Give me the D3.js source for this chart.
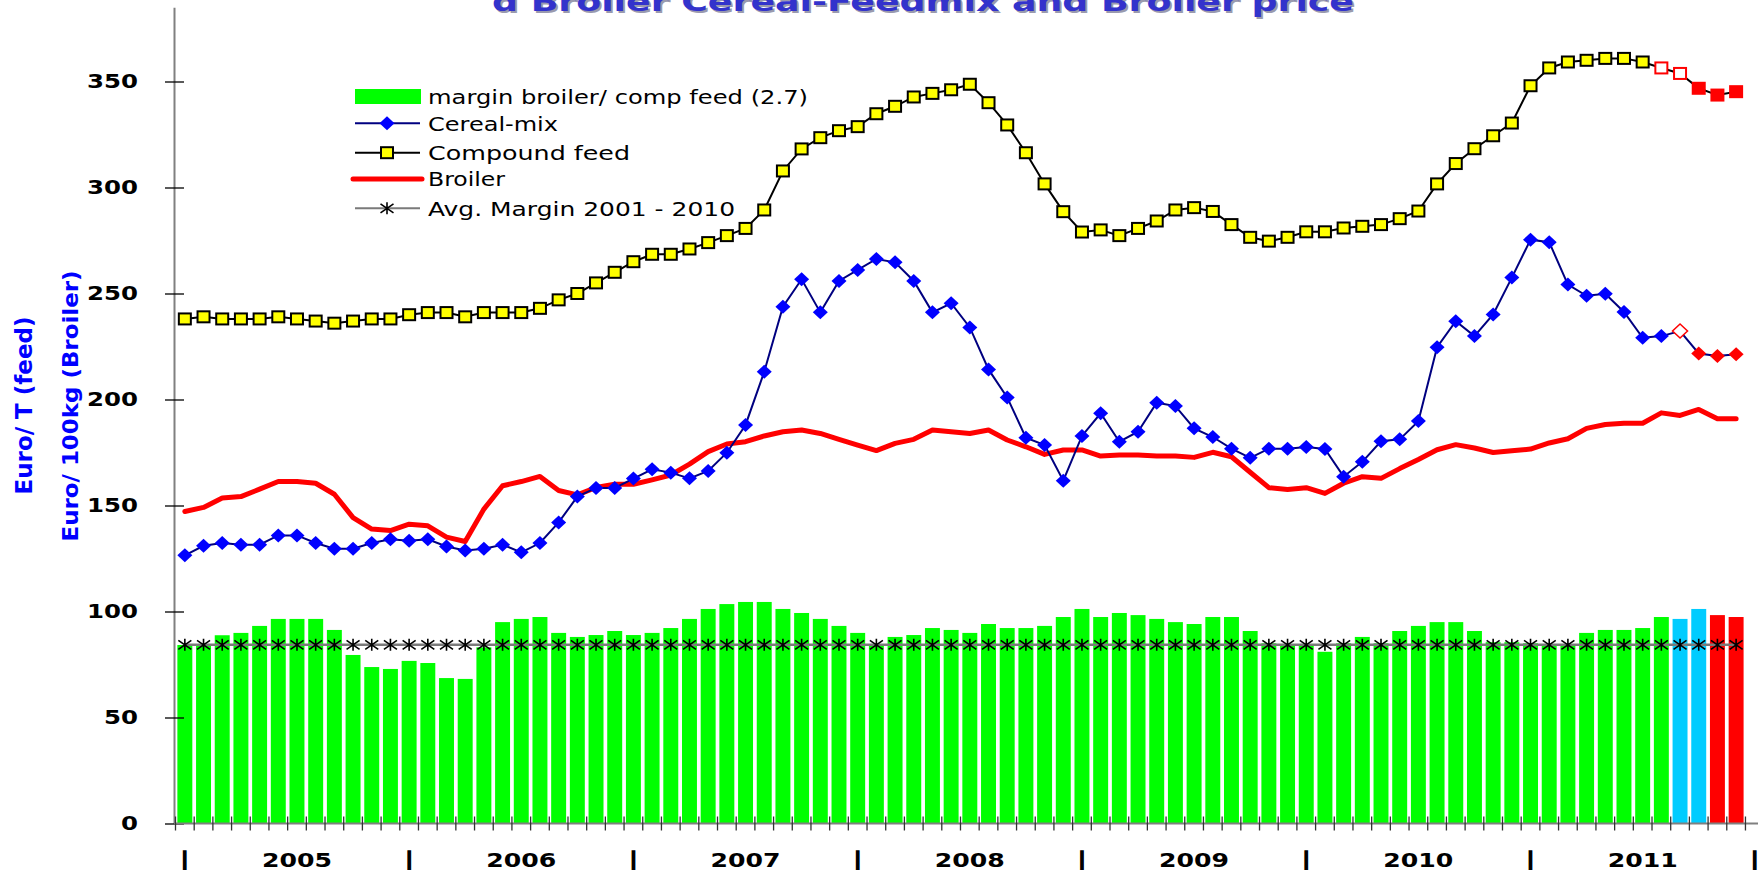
<!DOCTYPE html>
<html>
<head>
<meta charset="utf-8">
<script src="https://cdn.jsdelivr.net/npm/d3@7"></script>
<style>
  body { margin: 0; background: #fff; overflow: hidden; }
  svg { display: block; font-family: "DejaVu Sans", Verdana, sans-serif; }
</style>
</head>
<body>
<svg id="chart"></svg>
<script>
// Data, one value per month (Jan 2005 - Dec 2011)
var years = ["2005", "2006", "2007", "2008", "2009", "2010", "2011"];

var marginBars = [84.2, 84.2, 88.8, 89.9, 93.2, 96.5, 96.5, 96.5, 91.3, 79.5, 73.8, 72.9, 76.7, 75.7, 68.6, 68.2, 83.1, 95.0, 96.5, 97.4, 89.9, 88.0, 88.9,
  90.8, 88.9, 89.9, 92.2, 96.5, 101.2, 103.5, 104.5, 104.5, 101.2, 99.3, 96.5, 93.2, 89.9, 84.5, 88.0, 88.9, 92.2, 91.3, 89.9, 94.1, 92.2, 92.2, 93.2, 97.4, 101.2, 97.4, 99.3, 98.3, 96.5, 95.0,
  94.1, 97.4, 97.4, 90.8, 85.0, 84.0, 84.0, 81.0, 85.0, 88.0, 85.0, 90.8, 93.2, 95.0, 95.0, 90.8, 85.5, 85.5, 85.0, 84.5, 84.5, 89.9, 91.3, 91.3, 92.2, 97.4, 96.5, 101.2, 98.3, 97.4];

var cerealMix = [126.5, 131, 132.3, 131.5, 131.5, 135.9, 135.9, 132.3, 129.6, 129.6, 132.3, 134.1, 133.4, 134.1, 130.7, 128.8, 129.6, 131.5, 127.9, 132.3, 142, 154.2, 158.3, 158.3, 162.7, 167.1, 165.5,
  162.8, 166.3, 174.9, 188, 213.1, 243.8, 256.7, 241.1, 255.9, 261.1, 266.3, 264.7, 255.9, 241.1, 245.4, 234, 214.2, 201, 182, 178.5, 161.7, 182.8, 193.5, 180.1, 184.8, 198.5, 196.9, 186.4,
  182.3, 176.8, 172.5, 176.8, 176.8, 177.6, 176.7, 163.6, 170.6, 180.3, 181.2, 189.8, 224.7, 236.9, 229.9, 240.1, 257.5, 275.4, 274.2, 254.2, 248.9, 249.9, 241.3, 229.1, 229.9, 232.3, 221.7, 220.5, 221.3];

var compoundFeed = [238, 239, 238, 238, 238, 239, 238, 237, 236, 237, 238, 238, 240, 241, 241, 239, 241, 241, 241, 243, 247, 250, 255, 260, 265, 268.5, 268.5,
  271, 274, 277.3, 280.7, 289.4, 307.8, 318.2, 323.5, 326.8, 328.7, 334.8, 338.3, 342.7, 344.4, 346.1, 348.7, 340, 329.5, 316.4, 301.7, 288.6, 279, 280, 277.3, 280.7, 284.2, 289.4, 290.5,
  288.7, 282.5, 276.5, 274.7, 276.5, 279.1, 279.1, 280.9, 281.7, 282.5, 285.3, 288.9, 301.7, 311.3, 318.3, 324.4, 330.4, 348.0, 356.4, 359.2, 360.0, 360.9, 360.9, 359.2, 356.4, 353.8, 346.8, 343.6, 345.2];

var broiler = [147.2, 149.1, 153.5, 154.2, 157.7, 161.3, 161.3, 160.5, 155.3, 144.3, 138.9, 138.2, 141.2, 140.4, 135.1, 133, 148.3, 159.3, 161.3, 163.7, 157.1, 155, 158.5, 160, 160, 162.1, 164.4, 169.5,
  175.4, 179, 180.1, 182.8, 184.8, 185.6, 184, 181.2, 178.5, 175.9, 179.3, 181.2, 185.6, 184.8, 184, 185.6, 180.9, 177.7, 174.1, 176.2, 176.2, 173.3, 173.8, 173.8, 173.3, 173.3, 172.7,
  175.1, 173, 165.7, 158.4, 157.6, 158.4, 155.7, 160.5, 163.6, 162.8, 167.4, 171.7, 176.3, 178.7, 177.1, 175, 175.8, 176.6, 179.5, 181.5, 186.4, 188.2, 188.8, 188.8, 193.7, 192.5, 195.3, 190.9, 190.9];

var avgMargin = 84.3;   // Avg. Margin 2001 - 2010, flat line
var yTicks = [0, 50, 100, 150, 200, 250, 300, 350];

// months which are drawn in the estimate / forecast colours
var barCyan = [80, 81], barRed = [82, 83];
var compoundOpen = [79, 80], compoundFilled = [81, 82, 83];
var cerealOpen = [80], cerealFilled = [81, 82, 83];

// category list: every month plus one empty slot on the right
var months = [];
years.forEach(function(y) {
  for (var m = 1; m <= 12; m++) months.push(y + "-" + (m < 10 ? "0" : "") + m);
});
months.push("2012-01");

var width = 1758, height = 870;
var svg = d3.select("#chart").attr("width", width).attr("height", height);

var step = 18.69, left = 175.5;
var x = d3.scaleBand()
  .domain(months)
  .range([left, left + step * months.length])
  .paddingInner(0.2)
  .paddingOuter(0.1);
var y = d3.scaleLinear().domain([0, 385]).range([823.5, 7.3]);

function cx(i) { return x(months[i]) + x.bandwidth() / 2; }

//Title, the top of it is cut off in the original
var titleText = "d Broiler Cereal-Feedmix and Broiler price";
svg.append("text").attr("x", 494).attr("y", 12.5).text(titleText)
  .attr("font-size", 27).attr("font-weight", "bold").attr("fill", "#9a9aae")
  .attr("textLength", 862).attr("lengthAdjust", "spacingAndGlyphs");
svg.append("text").attr("x", 492).attr("y", 10.5).text(titleText)
  .attr("font-size", 27).attr("font-weight", "bold").attr("fill", "#3333cc")
  .attr("textLength", 862).attr("lengthAdjust", "spacingAndGlyphs");

// Bars
svg.append("g").selectAll("rect")
  .data(marginBars)
  .enter().append("rect")
  .attr("x", function(d, i) { return x(months[i]); })
  .attr("width", x.bandwidth())
  .attr("y", function(d) { return y(d); })
  .attr("height", function(d) { return y(0) - y(d); })
  .attr("fill", function(d, i) {
    if (barCyan.indexOf(i) >= 0) return "#00ccff";
    if (barRed.indexOf(i) >= 0) return "#ff0000";
    return "#00ff00";
  });

// Axes
var yAxis = svg.append("g")
  .attr("transform", "translate(174,0)")
  .call(d3.axisLeft(y).tickValues(yTicks).tickSizeInner(9).tickSizeOuter(0).tickPadding(27));
yAxis.select(".domain").attr("stroke", "#808080").attr("stroke-width", 2);
yAxis.selectAll(".tick line").attr("x1", 10).attr("x2", -9).attr("stroke", "#000").attr("stroke-width", 1.3);
yAxis.selectAll(".tick text")
  .attr("font-family", "DejaVu Sans").attr("font-weight", "bold").attr("font-size", 19).attr("fill", "#000")
  .attr("textLength", function(d) { return String(d).length * 17; })
  .attr("lengthAdjust", "spacingAndGlyphs");

svg.append("line").attr("x1", 174).attr("x2", width).attr("y1", y(0)).attr("y2", y(0))
  .attr("stroke", "#808080").attr("stroke-width", 2);
svg.append("g").selectAll("line")
  .data(d3.range(months.length + 1))
  .enter().append("line")
  .attr("x1", function(k) { return left + k * x.step(); })
  .attr("x2", function(k) { return left + k * x.step(); })
  .attr("y1", y(0) - 7).attr("y2", y(0) + 7)
  .attr("stroke", "#333").attr("stroke-width", 1.3);

// year labels and separators
var xLabels = svg.append("g").attr("font-weight", "bold").attr("font-size", 19).attr("fill", "#000");
xLabels.selectAll(".sep")
  .data(d3.range(years.length + 1))
  .enter().append("text").attr("class", "sep")
  .attr("x", function(k) { return cx(k * 12); })
  .attr("y", 866).attr("text-anchor", "middle")
  .attr("stroke", "#000").attr("stroke-width", 1.6)
  .text("|");
xLabels.selectAll(".yr")
  .data(years)
  .enter().append("text").attr("class", "yr")
  .attr("x", function(d, k) { return cx(k * 12 + 6); })
  .attr("y", 867).attr("text-anchor", "middle")
  .attr("textLength", 70).attr("lengthAdjust", "spacingAndGlyphs")
  .text(function(d) { return d; });

// Axis titles
svg.append("text").attr("transform", "translate(32,405.5) rotate(-90)")
  .attr("text-anchor", "middle").attr("font-weight", "bold").attr("font-size", 23).attr("fill", "#0000ff")
  .attr("textLength", 178).attr("lengthAdjust", "spacingAndGlyphs")
  .text("Euro/ T (feed)");
svg.append("text").attr("transform", "translate(78,406) rotate(-90)")
  .attr("text-anchor", "middle").attr("font-weight", "bold").attr("font-size", 22).attr("fill", "#0000ff")
  .attr("textLength", 271).attr("lengthAdjust", "spacingAndGlyphs")
  .text("Euro/ 100kg (Broiler)");

// marker shapes
var starPath = "M0,-6V6M-6.5,-4.5L6.5,4.5M-6.5,4.5L6.5,-4.5";
var diamondPath = "M0,-7L7.5,0L0,7L-7.5,0Z";

// Avg margin line
svg.append("path")
  .datum(marginBars)
  .attr("fill", "none").attr("stroke", "#7a7a7a").attr("stroke-width", 2.5)
  .attr("d", d3.line().x(function(d, i) { return cx(i); }).y(function() { return y(avgMargin); }));
svg.append("g").selectAll("path")
  .data(marginBars)
  .enter().append("path")
  .attr("transform", function(d, i) { return "translate(" + cx(i) + "," + y(avgMargin) + ")"; })
  .attr("d", starPath).attr("stroke", "#000").attr("stroke-width", 1.6).attr("fill", "none");

// Broiler line
svg.append("path")
  .datum(broiler)
  .attr("fill", "none").attr("stroke", "#ff0000").attr("stroke-width", 5)
  .attr("stroke-linejoin", "round").attr("stroke-linecap", "round")
  .attr("d", d3.line().x(function(d, i) { return cx(i); }).y(function(d) { return y(d); }));

// Cereal-mix line and diamonds
svg.append("path")
  .datum(cerealMix)
  .attr("fill", "none").attr("stroke", "#000080").attr("stroke-width", 2)
  .attr("d", d3.line().x(function(d, i) { return cx(i); }).y(function(d) { return y(d); }));
svg.append("g").selectAll("path")
  .data(cerealMix)
  .enter().append("path")
  .attr("transform", function(d, i) { return "translate(" + cx(i) + "," + y(d) + ")"; })
  .attr("d", diamondPath)
  .attr("fill", function(d, i) {
    if (cerealOpen.indexOf(i) >= 0) return "#fff";
    if (cerealFilled.indexOf(i) >= 0) return "#ff0000";
    return "#0000ff";
  })
  .attr("stroke", function(d, i) { return cerealOpen.indexOf(i) >= 0 ? "#ff0000" : "none"; })
  .attr("stroke-width", 1.5);

// Compound feed line and squares
svg.append("path")
  .datum(compoundFeed)
  .attr("fill", "none").attr("stroke", "#000").attr("stroke-width", 2)
  .attr("d", d3.line().x(function(d, i) { return cx(i); }).y(function(d) { return y(d); }));
svg.append("g").selectAll("rect")
  .data(compoundFeed)
  .enter().append("rect")
  .attr("x", function(d, i) { return cx(i) - 6; })
  .attr("y", function(d) { return y(d) - 5.5; })
  .attr("width", 12).attr("height", 11)
  .attr("fill", function(d, i) {
    if (compoundOpen.indexOf(i) >= 0) return "#fff";
    if (compoundFilled.indexOf(i) >= 0) return "#ff0000";
    return "#ffff00";
  })
  .attr("stroke", function(d, i) {
    if (compoundOpen.indexOf(i) >= 0 || compoundFilled.indexOf(i) >= 0) return "#ff0000";
    return "#000";
  })
  .attr("stroke-width", 2);

// Legend
var legendItems = [
  { label: "margin broiler/ comp feed (2.7)", type: "bar", y: 96.5, w: 380 },
  { label: "Cereal-mix", type: "cereal", y: 123.3, w: 130 },
  { label: "Compound feed", type: "compound", y: 152.7, w: 202 },
  { label: "Broiler", type: "broiler", y: 179, w: 77 },
  { label: "Avg. Margin 2001 - 2010", type: "avg", y: 208.3, w: 307 }
];
var legend = svg.append("g");
legendItems.forEach(function(it) {
  var g = legend.append("g").attr("transform", "translate(0," + it.y + ")");
  if (it.type === "bar") {
    g.append("rect").attr("x", 355).attr("y", -7.5).attr("width", 66).attr("height", 15).attr("fill", "#00ff00");
  } else if (it.type === "cereal") {
    g.append("line").attr("x1", 355).attr("x2", 420).attr("stroke", "#000080").attr("stroke-width", 2);
    g.append("path").attr("transform", "translate(387,0)").attr("d", diamondPath).attr("fill", "#0000ff");
  } else if (it.type === "compound") {
    g.append("line").attr("x1", 355).attr("x2", 420).attr("stroke", "#000").attr("stroke-width", 2);
    g.append("rect").attr("x", 381).attr("y", -5.5).attr("width", 12).attr("height", 11)
      .attr("fill", "#ffff00").attr("stroke", "#000").attr("stroke-width", 2);
  } else if (it.type === "broiler") {
    g.append("line").attr("x1", 353).attr("x2", 422).attr("stroke", "#ff0000").attr("stroke-width", 5)
      .attr("stroke-linecap", "round");
  } else {
    g.append("line").attr("x1", 355).attr("x2", 420).attr("stroke", "#7a7a7a").attr("stroke-width", 2);
    g.append("path").attr("transform", "translate(387,0)").attr("d", starPath)
      .attr("stroke", "#000").attr("stroke-width", 1.6).attr("fill", "none");
  }
  g.append("text").attr("x", 428).attr("dy", "0.36em")
    .attr("font-size", 20).attr("fill", "#000")
    .attr("textLength", it.w).attr("lengthAdjust", "spacingAndGlyphs")
    .text(it.label);
});
</script>
</body>
</html>
